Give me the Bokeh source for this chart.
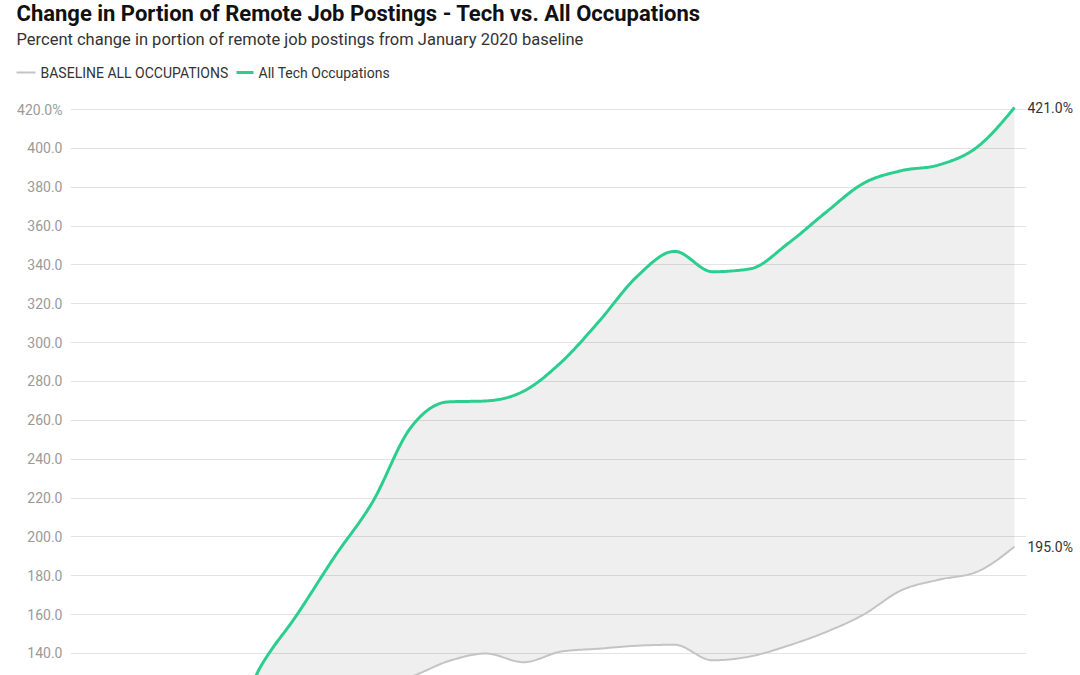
import numpy as np
from bokeh.plotting import figure
from bokeh.models import Range1d, FixedTicker, LinearAxis
from bokeh.layouts import column
from bokeh.core.properties import value
from bokeh.embed import file_html
from bokeh.resources import INLINE

# ---------------- data ----------------
months = ["2020-01", "2020-02", "2020-03", "2020-04", "2020-05", "2020-06",
          "2020-07", "2020-08", "2020-09", "2020-10", "2020-11", "2020-12",
          "2021-01", "2021-02", "2021-03", "2021-04", "2021-05", "2021-06",
          "2021-07", "2021-08", "2021-09", "2021-10", "2021-11", "2021-12",
          "2022-01", "2022-02"]
tech = [100, 98, 97, 96, 90, 132, 160, 190, 218, 256, 269.5, 270, 275, 290,
        311, 334, 347, 336.5, 338, 351, 367, 382, 388.5, 391.5, 400.5, 421]
baseline = [100, 97, 99, 103, 108, 113, 117, 121, 124, 128, 136, 140, 135.5,
            141, 142.5, 144, 144.5, 136.5, 138.5, 144, 151, 160, 172.5, 178,
            182, 195]
y_ticks = [140, 160, 180, 200, 220, 240, 260, 280, 300, 320, 340, 360, 380, 400, 420]

title_text = "Change in Portion of Remote Job Postings - Tech vs. All Occupations"
subtitle_text = "Percent change in portion of remote job postings from January 2020 baseline"
legend_labels = ["BASELINE ALL OCCUPATIONS", "All Tech Occupations"]

FONT = "Roboto"
GREEN = "#2bce8e"
GRAY = "#c4c4c4"


def monotone_path(xs, ys, n=24):
    """Monotone cubic (d3 curveMonotoneX style) path through the data points."""
    xs = np.asarray(xs, float)
    ys = np.asarray(ys, float)
    h = np.diff(xs)
    s = np.diff(ys) / h
    m = np.zeros_like(ys)
    for i in range(1, len(xs) - 1):
        s0, s1 = s[i - 1], s[i]
        p = (s0 * h[i] + s1 * h[i - 1]) / (h[i - 1] + h[i])
        sg0 = -1 if s0 < 0 else 1
        sg1 = -1 if s1 < 0 else 1
        m[i] = (sg0 + sg1) * min(abs(s0), abs(s1), 0.5 * abs(p))
    m[0] = (3 * s[0] - m[1]) / 2
    m[-1] = (3 * s[-1] - m[-2]) / 2
    ox, oy = [], []
    for i in range(len(xs) - 1):
        t = np.linspace(0, 1, n, endpoint=(i == len(xs) - 2))
        h00 = 2 * t**3 - 3 * t**2 + 1
        h10 = t**3 - 2 * t**2 + t
        h01 = -2 * t**3 + 3 * t**2
        h11 = t**3 - t**2
        ox.append(xs[i] + t * h[i])
        oy.append(h00 * ys[i] + h10 * h[i] * m[i] + h01 * ys[i + 1] + h11 * h[i] * m[i + 1])
    return np.concatenate(ox), np.concatenate(oy)


x_idx = np.arange(len(months))
sx, s_tech = monotone_path(x_idx, tech)
_, s_base = monotone_path(x_idx, baseline)

# ---------------- layout ----------------
W = 1080
HEAD_H = 95
MAIN_H = 580
LEFT, RIGHT = 70, 54
px_per_x = 37.76
y_lo, y_hi = 128.676, 427.206
x_end = (len(months) - 1) + ((W - LEFT - RIGHT) - (len(months) - 1) * px_per_x) / px_per_x

# header: title, subtitle, legend (pixel-space figure)
head = figure(width=W, height=HEAD_H, output_backend="svg", toolbar_location=None,
              x_range=Range1d(0, W), y_range=Range1d(HEAD_H, 0),
              x_axis_location=None, y_axis_location=None,
              min_border=0, min_border_left=0, min_border_right=0,
              min_border_top=0, min_border_bottom=0)
head.frame_align = False
head.outline_line_color = None
head.grid.grid_line_color = None
head.text(x=[16], y=[13], text=[title_text], text_baseline="middle", text_align="left",
          text_font=value(FONT), text_font_size="22px", text_font_style="bold",
          text_color="#111111")
head.text(x=[16], y=[39], text=[subtitle_text], text_baseline="middle", text_align="left",
          text_font=value(FONT), text_font_size="16.5px", text_color="#333333")
# legend swatches + labels
head.segment(x0=[16], y0=[72], x1=[35], y1=[72], line_color=GRAY, line_width=2)
head.text(x=[40], y=[72], text=[legend_labels[0]], text_baseline="middle", text_align="left",
          text_font=value(FONT), text_font_size="14px", text_color="#333333")
head.segment(x0=[236], y0=[72], x1=[253], y1=[72], line_color=GREEN, line_width=3)
head.text(x=[258], y=[72], text=[legend_labels[1]], text_baseline="middle", text_align="left",
          text_font=value(FONT), text_font_size="14px", text_color="#333333")

# main chart
p = figure(width=W, height=MAIN_H, output_backend="svg", toolbar_location=None,
           x_range=Range1d(0, x_end), y_range=Range1d(y_lo, y_hi),
           x_axis_location=None, min_border_left=LEFT, min_border_right=RIGHT,
           min_border_top=0, min_border_bottom=0)
p.frame_align = False
p.outline_line_color = None
p.xgrid.grid_line_color = None
p.ygrid.grid_line_color = "#e3e3e3"
p.ygrid.ticker = FixedTicker(ticks=y_ticks)

ax = p.yaxis[0]
ax.ticker = FixedTicker(ticks=y_ticks)
ax.major_label_overrides = {t: (f"{t:.1f}%" if t == y_ticks[-1] else f"{t:.1f}") for t in y_ticks}
ax.axis_line_color = None
ax.major_tick_line_color = None
ax.minor_tick_line_color = None
ax.major_tick_in = 0
ax.major_tick_out = 0
ax.major_label_standoff = 8
ax.major_label_text_font = FONT
ax.major_label_text_font_size = "14px"
ax.major_label_text_color = "#9a9a9a"

end_vals = [tech[-1], baseline[-1]]
rax = LinearAxis(ticker=FixedTicker(ticks=end_vals),
                 major_label_overrides={v: f"{v:.1f}%" for v in end_vals})
rax.axis_line_color = None
rax.major_tick_line_color = None
rax.minor_tick_line_color = None
rax.major_tick_in = 0
rax.major_tick_out = 0
rax.major_label_standoff = 1
rax.major_label_text_font = FONT
rax.major_label_text_font_size = "14px"
rax.major_label_text_color = "#333333"
p.add_layout(rax, "right")

p.varea(x=sx, y1=s_base, y2=s_tech, fill_color="black", fill_alpha=0.062)
p.line(sx, s_base, line_color=GRAY, line_width=2)
p.line(sx, s_tech, line_color=GREEN, line_width=3)

layout = column(head, p, spacing=0)
open("out.html", "w").write(file_html(layout, INLINE))
